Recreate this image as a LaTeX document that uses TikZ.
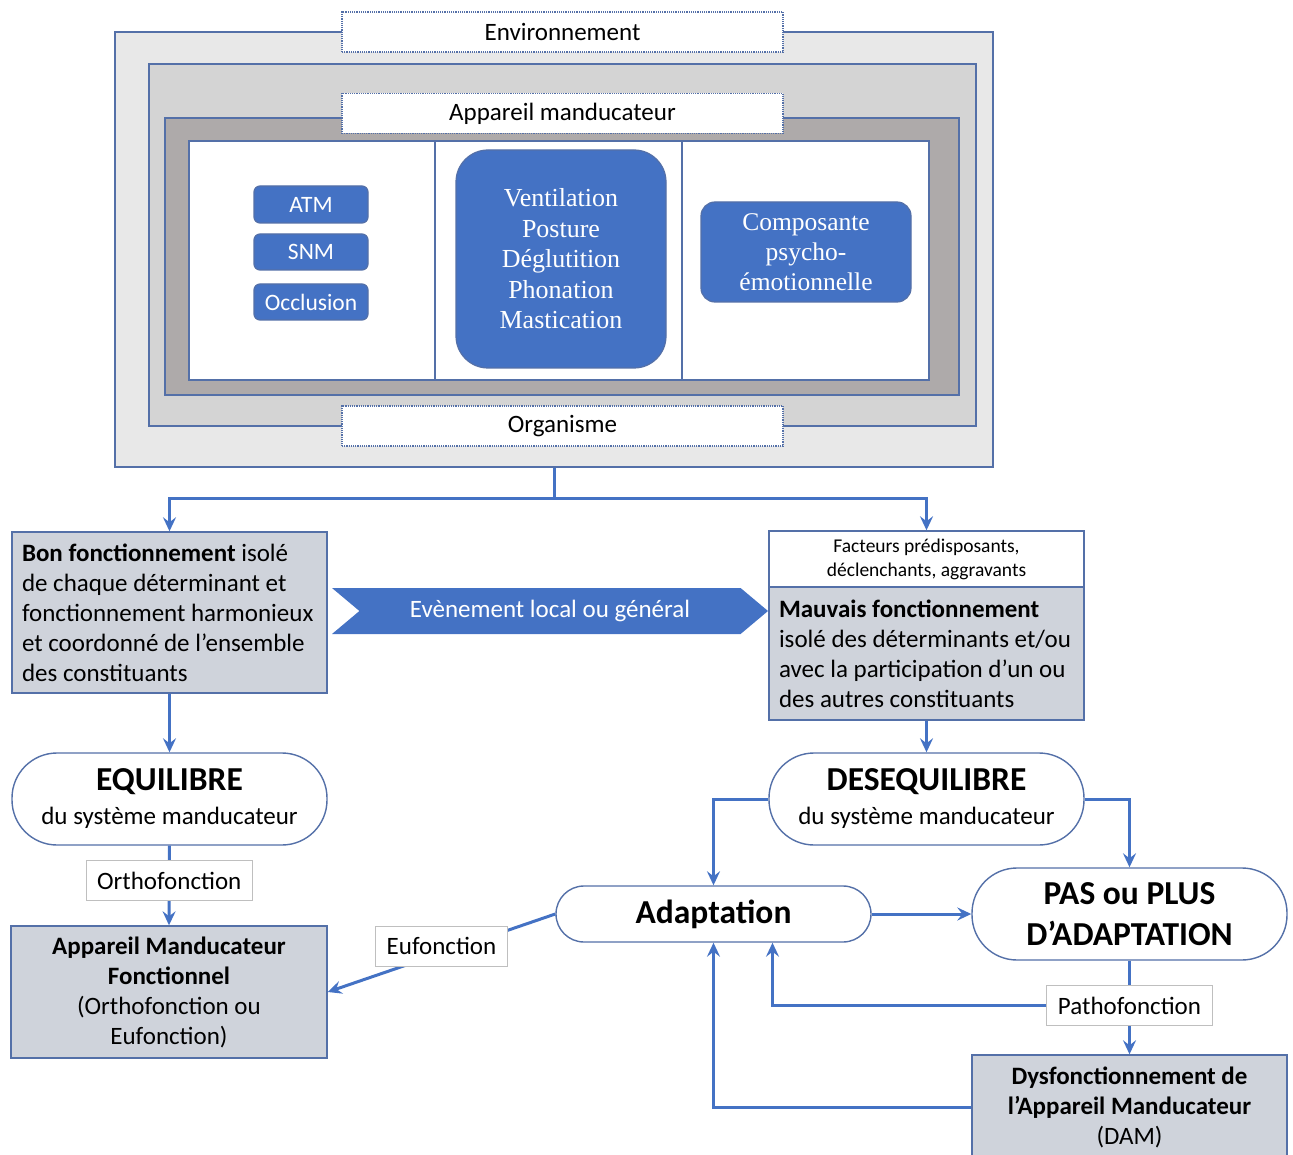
\documentclass[tikz,border=0pt]{standalone}
\usepackage{fontspec}
\setmainfont{Carlito}
\newfontfamily\timesface{Liberation Serif}
\usetikzlibrary{arrows.meta,shapes.symbols,positioning}
\definecolor{mblue}{RGB}{68,114,196}
\definecolor{edgeblue}{RGB}{84,112,168}
\definecolor{envgray}{RGB}{232,232,232}
\definecolor{orggray}{RGB}{212,212,212}
\definecolor{appgray}{RGB}{174,170,170}
\definecolor{boxgray}{RGB}{207,211,219}
\tikzset{
  flow/.style={draw=mblue, line width=3pt, -{Stealth[length=14pt,width=13pt,inset=5pt]}},
  link/.style={draw=mblue, line width=3pt},
  frame/.style={draw=edgeblue, line width=1.4pt, inner sep=0pt},
  tag/.style={draw=edgeblue, densely dotted, line width=1.2pt, fill=white, minimum width=441pt,
    minimum height=40pt, inner sep=0pt, font=\fontsize{25}{28}\selectfont},
  organ/.style={fill=mblue, draw=edgeblue, line width=1.2pt, rounded corners=6pt, text=white,
    minimum width=114pt, minimum height=36pt, inner sep=0pt, font=\fontsize{23.5}{27}\selectfont},
  graybox/.style={frame, fill=boxgray, minimum width=315pt, font=\fontsize{25}{30}\selectfont},
  pill/.style={frame, fill=white, minimum width=315pt, minimum height=92pt, rounded corners=45pt,
    align=center, font=\fontsize{25}{30}\selectfont},
  lab/.style={draw=black!25, line width=1pt, fill=white, inner xsep=11pt, inner ysep=0pt,
    minimum height=40pt, font=\fontsize{25}{28}\selectfont}
}
\begin{document}
\begin{tikzpicture}[x=1pt, y=-1pt]
\useasboundingbox (0,0) rectangle (1293,1155);
% nested frames
\node[frame, fill=envgray, minimum width=878pt, minimum height=435pt] (envbox) at (554,249.5) {};
\node[frame, fill=orggray, minimum width=827pt, minimum height=362pt] (orgbox) at (562.5,245) {};
\node[frame, fill=appgray, minimum width=794pt, minimum height=277pt] (appbox) at (562,256.5) {};
\node[frame, fill=white, minimum width=246pt, minimum height=239pt] (cellL) at (312,260.5) {};
\node[frame, fill=white, minimum width=247pt, minimum height=239pt] (cellM) at (558.5,260.5) {};
\node[frame, fill=white, minimum width=247pt, minimum height=239pt] (cellR) at (805.5,260.5) {};
\node[tag] (envtag) at (562.5,32) {Environnement};
\node[tag] (apptag) at (562.5,113.5) {Appareil manducateur};
\node[tag] (orgtag) at (562.5,426) {Organisme};
% determinants
\node[organ, minimum height=37pt] (atm) at (311,204.5) {ATM};
\node[organ] (snm) at (311,252) {SNM};
\node[organ] (occl) at (311,302) {Occlusion};
\node[organ, minimum width=210pt, minimum height=218pt, rounded corners=32pt, align=center,
  font=\timesface\fontsize{26}{30.5}\selectfont] (fonctions) at (561,259)
  {Ventilation\\Posture\\Déglutition\\Phonation\\Mastication};
\node[organ, minimum width=210pt, minimum height=100pt, rounded corners=14pt, align=center,
  font=\timesface\fontsize{25.5}{30}\selectfont] (psycho) at (806,252)
  {Composante\\psycho-\\émotionnelle};
% functioning
\node[graybox, minimum height=161pt, text width=295pt, align=flush left] (bon) at (169.5,612.5)
  {\textbf{Bon fonctionnement} isolé\\de chaque déterminant et\\fonctionnement harmonieux\\et coordonné de l’ensemble\\des constituants};
\node[signal, signal to=east, signal from=west, signal pointer angle=80, fill=mblue, text=white,
  minimum width=436pt, minimum height=46pt, inner sep=0pt, font=\fontsize{25}{28}\selectfont]
  (event) at (550,611) {Evènement local ou général};
\node[frame, fill=white, minimum width=315pt, minimum height=56pt, align=center,
  font=\fontsize{19.5}{24}\selectfont] (facteurs) at (926.5,559)
  {Facteurs prédisposants,\\déclenchants, aggravants};
\node[graybox, minimum height=133pt, text width=295pt, align=flush left] (mauvais) at (926.5,653.5)
  {\textbf{Mauvais fonctionnement}\\isolé des déterminants et/ou\\avec la participation d’un ou\\des autres constituants};
% states
\node[pill] (equi) at (169.5,799)
  {{\fontsize{33.5}{36}\selectfont\bfseries EQUILIBRE}\\[4pt]du système manducateur};
\node[pill] (deseq) at (926.5,799)
  {{\fontsize{33.5}{36}\selectfont\bfseries DESEQUILIBRE}\\[4pt]du système manducateur};
\node[pill, minimum height=56pt, rounded corners=28pt, font=\fontsize{33.5}{36}\selectfont\bfseries]
  (adapt) at (713.5,914) {Adaptation};
\node[pill, font=\fontsize{33.5}{41}\selectfont\bfseries] (pas) at (1129.5,914)
  {PAS ou PLUS\\D’ADAPTATION};
\node[graybox, minimum width=316pt, minimum height=132pt, align=center] (amf) at (169,992)
  {\textbf{Appareil Manducateur}\\\textbf{Fonctionnel}\\(Orthofonction ou\\Eufonction)};
\node[graybox, minimum height=104pt, align=center] (dam) at (1129.5,1107)
  {\textbf{Dysfonctionnement de}\\\textbf{l’Appareil Manducateur}\\(DAM)};
% connectors
\coordinate (split) at (554,498);
\draw[link] (envbox.south) -- (split);
\draw[flow] (split) -| (bon.north);
\draw[flow] (split) -| (facteurs.north);
\draw[flow] (bon.south) -- (equi.north);
\draw[flow] (mauvais.south) -- (deseq.north);
\draw[flow] (equi.south) -- (amf.north) node[midway, yshift=5pt, lab] (ortho) {Orthofonction};
\draw[flow] (deseq.west) -| (adapt.north);
\draw[flow] (deseq.east) -| (pas.north);
\draw[flow] (adapt.east) -- (pas.west);
\draw[flow] (adapt.west) -- (amf.east) node[midway, yshift=7pt, lab] (eu) {Eufonction};
\draw[flow] (pas.south) -- (dam.north) node[midway, yshift=2pt, lab] (patho) {Pathofonction};
\draw[flow] (patho.west) -| ([xshift=59pt]adapt.south);
\draw[flow] (dam.west) -| (adapt.south);
\end{tikzpicture}
\end{document}
